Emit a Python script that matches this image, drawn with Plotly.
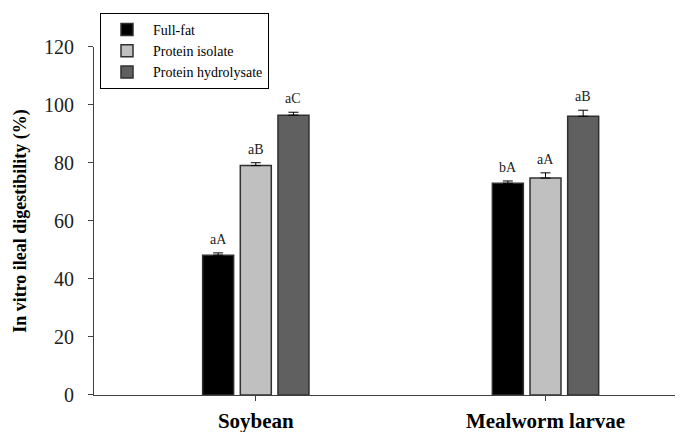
import plotly.graph_objects as go

categories = ["Soybean", "Mealworm larvae"]
series_names = ["Full-fat", "Protein isolate", "Protein hydrolysate"]
full_fat = [48.2, 73.0]
protein_isolate = [79.1, 74.8]
protein_hydrolysate = [96.5, 96.1]
full_fat_err = [0.8, 0.8]
protein_isolate_err = [1.0, 1.8]
protein_hydrolysate_err = [1.0, 2.1]
full_fat_labels = ["aA", "bA"]
protein_isolate_labels = ["aB", "aA"]
protein_hydrolysate_labels = ["aC", "aB"]
y_ticks = [0, 20, 40, 60, 80, 100, 120]

values = [full_fat, protein_isolate, protein_hydrolysate]
errors = [full_fat_err, protein_isolate_err, protein_hydrolysate_err]
labels = [full_fat_labels, protein_isolate_labels, protein_hydrolysate_labels]
colors = ["#000000", "#c0c0c0", "#606060"]

FONT = "Liberation Serif"
bargap = 0.61
bargroupgap = 0.177

fig = go.Figure()
for name, vals, errs, col in zip(series_names, values, errors, colors):
    fig.add_trace(go.Bar(
        x=categories, y=vals, name=name,
        marker=dict(color=col, line=dict(color="#303030", width=1.5)),
        error_y=dict(type="data", array=errs, arrayminus=[0] * len(errs),
                     symmetric=False, color="#000000", thickness=1, width=5),
    ))

slot = (1 - bargap) / len(series_names)
annotations = []
for j, (vals, errs, labs) in enumerate(zip(values, errors, labels)):
    for i in range(len(categories)):
        annotations.append(dict(
            x=i + (j - (len(series_names) - 1) / 2) * slot,
            y=vals[i] + errs[i], xref="x", yref="y",
            text=labs[i], showarrow=False, yanchor="bottom", yshift=4,
            font=dict(family=FONT, size=14, color="#222222"),
        ))

# the page body adds an 8px offset, so the figure is 8px smaller than the window
fig.update_layout(
    width=675, height=424,
    margin=dict(l=86, r=0, t=5, b=37, autoexpand=False),
    paper_bgcolor="white", plot_bgcolor="white",
    barmode="group", bargap=bargap, bargroupgap=bargroupgap,
    annotations=annotations,
    showlegend=True,
    legend=dict(
        x=0.0102, y=1.0, xanchor="left", yanchor="top",
        bordercolor="#000000", borderwidth=1, bgcolor="white",
        font=dict(family=FONT, size=14, color="#000000"),
        tracegroupgap=0, itemwidth=42,
    ),
    xaxis=dict(
        range=[-0.5585, 1.4746], automargin=False,
        showline=True, linecolor="#404040", linewidth=1,
        ticks="outside", ticklen=5, tickcolor="#404040",
        tickfont=dict(family=FONT, size=21, color="#000000", weight="bold"),
        ticklabelstandoff=2,
        showgrid=False, zeroline=False,
    ),
    yaxis=dict(
        range=[0, 120], tickvals=y_ticks, domain=[0, 0.911], automargin=False,
        showline=True, linecolor="#404040", linewidth=1,
        ticks="outside", ticklen=5, tickcolor="#404040",
        tickfont=dict(family=FONT, size=20, color="#222222"),
        ticklabelstandoff=10,
        title=dict(text="<b>In vitro ileal digestibility (%)</b>",
                   font=dict(family=FONT, size=18, color="#000000"), standoff=12),
        showgrid=False, zeroline=False,
    ),
)

fig.write_html("out.html")
